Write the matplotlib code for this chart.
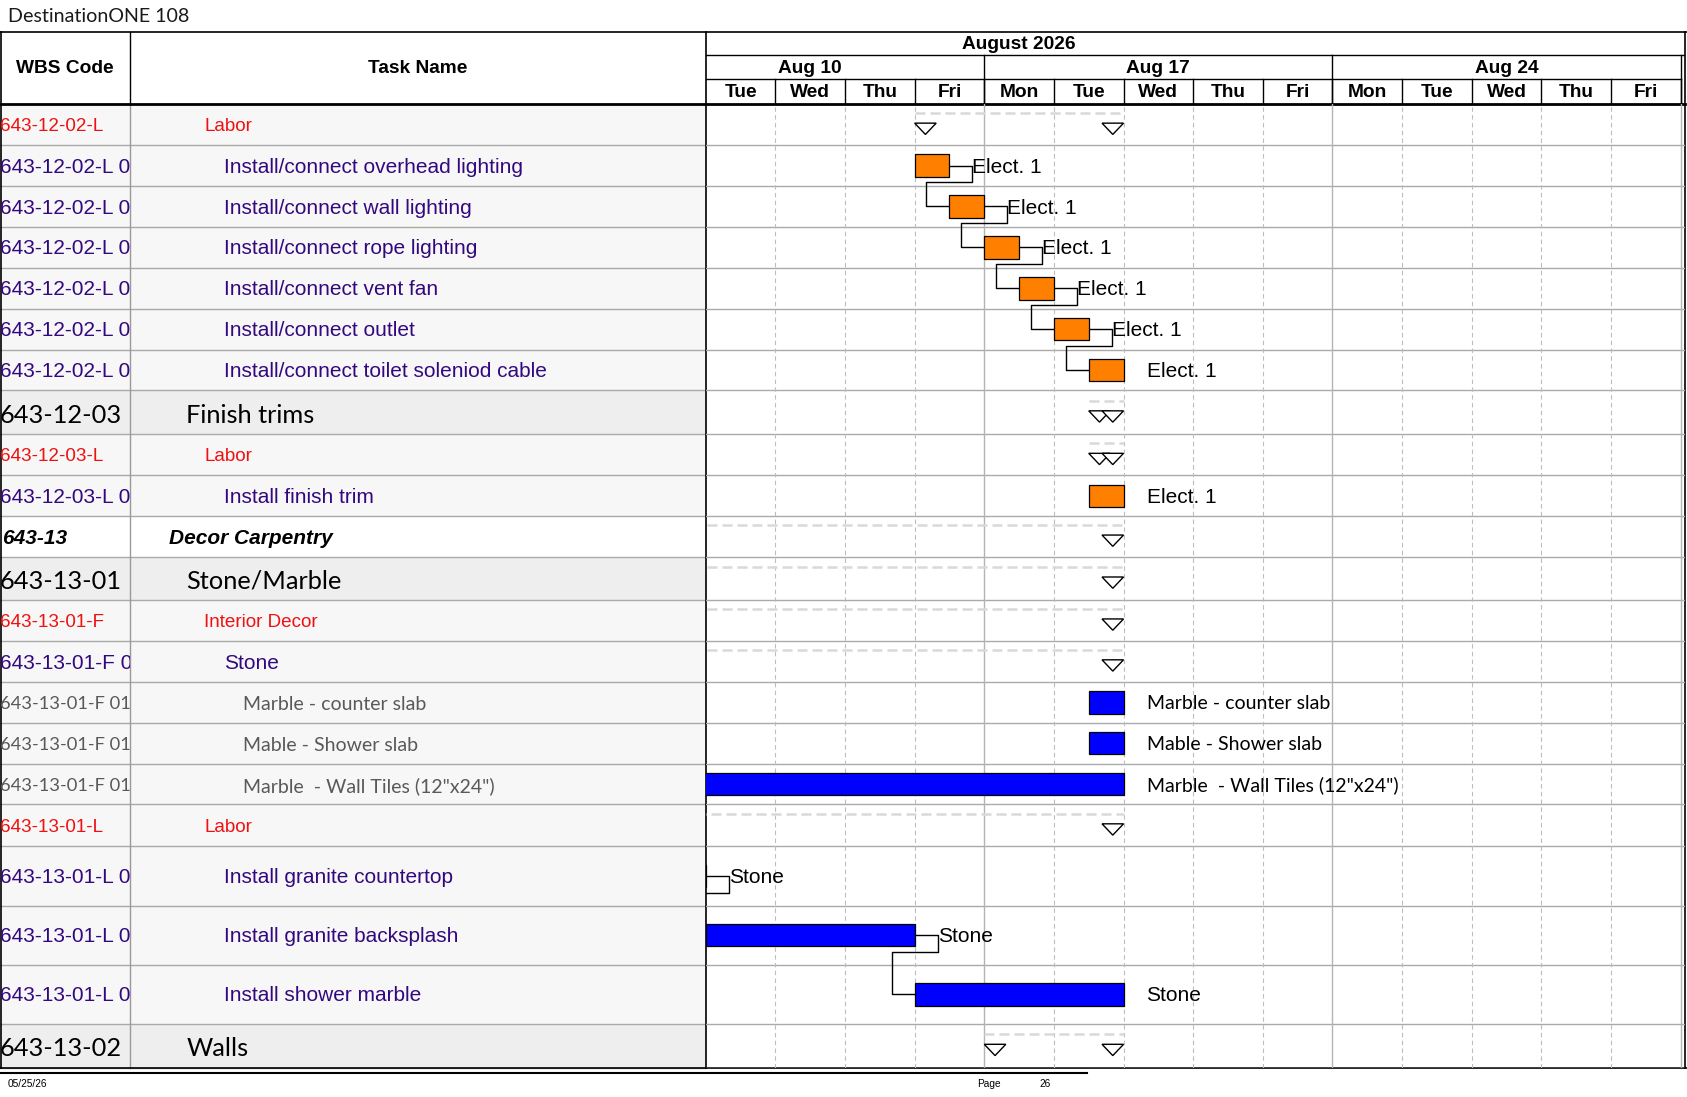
import matplotlib.pyplot as plt
import numpy as np
import pandas as pd
from matplotlib.patches import Polygon, Rectangle

# ---------------- data ----------------
project_title = "DestinationONE 108"
print_date = "05/25/26"
page_no = "26"
month_label = "August 2026"

wbs_codes = [
    "643-12-02-L", "643-12-02-L 01", "643-12-02-L 02", "643-12-02-L 03",
    "643-12-02-L 04", "643-12-02-L 05", "643-12-02-L 06", "643-12-03",
    "643-12-03-L", "643-12-03-L 01", "643-13", "643-13-01", "643-13-01-F",
    "643-13-01-F 01", "643-13-01-F 01 01", "643-13-01-F 01 02",
    "643-13-01-F 01 03", "643-13-01-L", "643-13-01-L 01", "643-13-01-L 02",
    "643-13-01-L 03", "643-13-02",
]
task_names = [
    "Labor", "Install/connect overhead lighting", "Install/connect wall lighting",
    "Install/connect rope lighting", "Install/connect vent fan",
    "Install/connect outlet", "Install/connect toilet soleniod cable",
    "Finish trims", "Labor", "Install finish trim", "Decor Carpentry",
    "Stone/Marble", "Interior Decor", "Stone", "Marble - counter slab",
    "Mable - Shower slab", 'Marble  - Wall Tiles (12"x24")', "Labor",
    "Install granite countertop", "Install granite backsplash",
    "Install shower marble", "Walls",
]
row_kinds = [
    "group", "task", "task", "task", "task", "task", "task", "summary",
    "group", "task", "phase", "summary", "group", "task", "item", "item",
    "item", "group", "task", "task", "task", "summary",
]

# working-day index, 0 = Tue Aug 11 2026 (weekends hidden)
origin = "2026-08-11"
visible_days = pd.bdate_range("2026-08-11", "2026-08-28")
week_mondays = ["2026-08-10", "2026-08-17", "2026-08-24"]
month_first, month_next = "2026-08-03", "2026-09-01"

bar_start = [None, 3.0, 3.5, 4.0, 4.5, 5.0, 5.5, None, None, 5.5, None, None,
             None, None, 5.5, 5.5, -3.0, None, -1.0, 0.0, 3.0, None]
bar_end = [None, 3.5, 4.0, 4.5, 5.0, 5.5, 6.0, None, None, 6.0, None, None,
           None, None, 6.0, 6.0, 6.0, None, 0.0, 3.0, 6.0, None]
bar_color = [None, "#ff8000", "#ff8000", "#ff8000", "#ff8000", "#ff8000",
             "#ff8000", None, None, "#ff8000", None, None, None, None,
             "#0000ff", "#0000ff", "#0000ff", None, "#0000ff", "#0000ff",
             "#0000ff", None]
bar_label = [None, "Elect. 1", "Elect. 1", "Elect. 1", "Elect. 1", "Elect. 1",
             "Elect. 1", None, None, "Elect. 1", None, None, None, None,
             "Marble - counter slab", "Mable - Shower slab",
             'Marble  - Wall Tiles (12"x24")', None, "Stone", "Stone", "Stone",
             None]
summary_start = [3.0, None, None, None, None, None, None, 5.5, 5.5, None, -3.0,
                 -3.0, -3.0, -3.0, None, None, None, -1.0, None, None, None, 4.0]
summary_end = [6.0, None, None, None, None, None, None, 6.0, 6.0, None, 6.0,
               6.0, 6.0, 6.0, None, None, None, 6.0, None, None, None, 6.0]
links = [(1, 2), (2, 3), (3, 4), (4, 5), (5, 6), (18, 19), (19, 20)]

# ---------------- layout ----------------
W, H = 1568.0, 1020.0
TOP, HDR_BOT = 30, 97
COL_WBS, COL_GANTT, RIGHT = 121, 656, 1566
DAY_PX = (1562 - 656) / 14.0
row_heights = [38] * 7 + [41] + [38] * 3 + [40] + [38] * 5 + [39] + [55] * 3 + [41]
row_tops = HDR_BOT + np.concatenate([[0], np.cumsum(row_heights)[:-1]])
BOTTOM = HDR_BOT + sum(row_heights)

ARIAL = "Liberation Sans"
CAL = "Lato"
kind_style = {
    "group": dict(indent=190, color="#ee1111", font=ARIAL, size=13.6, code_size=13.6,
                  dy=1.5, weight="normal", style="normal", bg="#f7f7f7"),
    "task": dict(indent=208, color="#33087f", font=ARIAL, size=15, code_size=15,
                 dy=1.5, weight="normal", style="normal", bg="#f7f7f7"),
    "summary": dict(indent=173, color="black", font=CAL, size=18.3, code_size=18.3,
                    dy=2.5, weight="normal", style="normal", bg="#eeeeee"),
    "phase": dict(indent=157, color="black", font=ARIAL, size=15, code_size=15,
                  dy=1.5, weight="bold", style="italic", bg="white"),
    "item": dict(indent=226, color="#595959", font=CAL, size=14, code_size=13.2,
                 dy=2, weight="normal", style="normal", bg="#f7f7f7"),
}
GRID = "#aaaaaa"


def day_idx(date):
    return int(np.busday_count(origin, pd.Timestamp(date).strftime("%Y-%m-%d")))


fig = plt.figure(figsize=(16.87, 10.97), dpi=100)

# full-page axes in reference pixel units
ax = fig.add_axes([0, 0, 1, 1])
ax.set_xlim(0, W)
ax.set_ylim(H, 0)
ax.axis("off")

gx0 = COL_GANTT / W
gw = (RIGHT - COL_GANTT) / W
x_max = (RIGHT - COL_GANTT) / DAY_PX

axg = fig.add_axes([gx0, 1 - BOTTOM / H, gw, (BOTTOM - HDR_BOT) / H])
axg.set_xlim(0, x_max)
axg.set_ylim(BOTTOM, HDR_BOT)
axg.axis("off")

axh = fig.add_axes([gx0, 1 - HDR_BOT / H, gw, (HDR_BOT - TOP) / H])
axh.set_xlim(0, x_max)
axh.set_ylim(HDR_BOT, TOP)
axh.axis("off")

axw = fig.add_axes([0, 1 - BOTTOM / H, COL_WBS / W, (BOTTOM - HDR_BOT) / H])
axw.set_xlim(0, COL_WBS)
axw.set_ylim(BOTTOM, HDR_BOT)
axw.axis("off")

# ---------------- table ----------------
for i, (code, name, kind) in enumerate(zip(wbs_codes, task_names, row_kinds)):
    st = kind_style[kind]
    top, h = row_tops[i], row_heights[i]
    yc = top + h / 2 + st["dy"]
    ax.add_patch(Rectangle((0, top), COL_GANTT, h, color=st["bg"], zorder=0, lw=0))
    font_kw = dict(family=st["font"], color=st["color"], fontweight=st["weight"],
                   fontstyle=st["style"], va="center")
    axw.text(0 if kind != "phase" else 2, yc, code, clip_on=True,
             fontsize=st["code_size"], **font_kw)
    ax.text(st["indent"], yc, name, fontsize=st["size"], **font_kw)
    ax.plot([0, COL_GANTT], [top + h, top + h], color=GRID, lw=1, zorder=1)
    axg.axhline(top + h, color=GRID, lw=1, zorder=1)

ax.plot([COL_WBS, COL_WBS], [HDR_BOT, BOTTOM], color="#999999", lw=1, zorder=2)
ax.plot([COL_WBS, COL_WBS], [TOP, HDR_BOT], color="black", lw=1, zorder=2)
ax.plot([0.5, 0.5], [TOP, BOTTOM], color="black", lw=1.2, zorder=3)
ax.plot([COL_GANTT, COL_GANTT], [TOP, BOTTOM], color="black", lw=1.2, zorder=3)
ax.plot([RIGHT, RIGHT], [TOP, BOTTOM], color="black", lw=1.2, zorder=3)
ax.plot([0, W], [TOP, TOP], color="black", lw=1.2, zorder=3)
ax.plot([0, RIGHT], [HDR_BOT, HDR_BOT], color="black", lw=2, zorder=3)
ax.plot([0, W], [BOTTOM, BOTTOM], color="black", lw=1.2, zorder=3)
ax.plot([0, 1010], [BOTTOM + 4.5, BOTTOM + 4.5], color="black", lw=1.5, zorder=3)

hdr_kw = dict(family=ARIAL, fontsize=13.8, fontweight="bold", ha="center", va="center")
ax.text(COL_WBS / 2, 64, "WBS Code", **hdr_kw)
ax.text((COL_WBS + COL_GANTT) / 2, 64, "Task Name", **hdr_kw)

ax.text(7, 15, project_title, family=CAL, fontsize=14.1,
        va="center", ha="left", color="#1a1a1a")
foot_kw = dict(family=ARIAL, fontsize=7.3, va="center", ha="left")
ax.text(7, 1008, print_date, **foot_kw)
ax.text(908, 1008, "Page", **foot_kw)
ax.text(966, 1008, page_no, **foot_kw)

# ---------------- timescale header ----------------
m0, m1 = day_idx(month_first), day_idx(month_next)
axh.text((m0 + m1) / 2, 41.5, month_label, clip_on=True, **hdr_kw)
axh.axhline(51, color="black", lw=1)
axh.axhline(73, color="black", lw=1, xmax=14 / x_max)
week_bounds = []
for monday in week_mondays:
    w0 = day_idx(monday)
    w1 = day_idx(pd.Timestamp(monday) + pd.Timedelta(days=7))
    week_bounds.append(w1)
    axh.text((w0 + w1) / 2, 63.5, pd.Timestamp(monday).strftime("%b %d").replace(" 0", " "),
             clip_on=True, **hdr_kw)
    axh.plot([w1, w1], [51, HDR_BOT], color="black", lw=1)
for d, day in enumerate(visible_days):
    axh.text(d + 0.5, 86, day.strftime("%a"), **hdr_kw)
    axh.plot([d + 1, d + 1], [73, HDR_BOT], color="black", lw=1)

# ---------------- gantt body ----------------
for d in range(1, len(visible_days) + 1):
    if d in week_bounds:
        axg.axvline(d, color="#b4b4b4", lw=1, zorder=1)
    else:
        axg.axvline(d, color="#bdbdbd", lw=0.8, ls=(0, (4, 3)), zorder=1)

TRI_W = 20 / DAY_PX
TRI_H = 10.5
for i in range(len(task_names)):
    yc = row_tops[i] + row_heights[i] / 2
    if summary_start[i] is not None:
        s, e = summary_start[i], summary_end[i]
        axg.plot([s, e], [yc - 11, yc - 11], color="#d9d9d9", lw=1.8,
                 ls=(0, (4, 2)), zorder=2)
        for x0 in (s, e - TRI_W):
            axg.add_patch(Polygon([(x0, yc - 1.5), (x0 + TRI_W, yc - 1.5),
                                   (x0 + TRI_W / 2, yc - 1.5 + TRI_H)],
                                  closed=True, facecolor="white", edgecolor="black",
                                  lw=1, zorder=4))
    if bar_start[i] is not None:
        s, e = bar_start[i], bar_end[i]
        axg.barh(yc, e - s, left=s, height=21, color=bar_color[i],
                 edgecolor="black", lw=0.9, zorder=4)
        lab_font = CAL if row_kinds[i] == "item" else ARIAL
        lab_size = 14 if row_kinds[i] == "item" else 15
        axg.text(e + 0.33, yc + 1.5, bar_label[i], family=lab_font, fontsize=lab_size,
                 va="center", ha="left", zorder=5, clip_on=True)

OFF = 0.33
for p, q in links:
    yp = row_tops[p] + row_heights[p] / 2
    yq = row_tops[q] + row_heights[q] / 2
    e, s = bar_end[p], bar_start[q]
    xs = [e, e + OFF, e + OFF, s - OFF, s - OFF, s]
    ys = [yp, yp, yp + 15.5, yp + 15.5, yq, yq]
    axg.plot(xs, ys, color="black", lw=1, zorder=3)

fig.savefig("out.png", dpi=100)
